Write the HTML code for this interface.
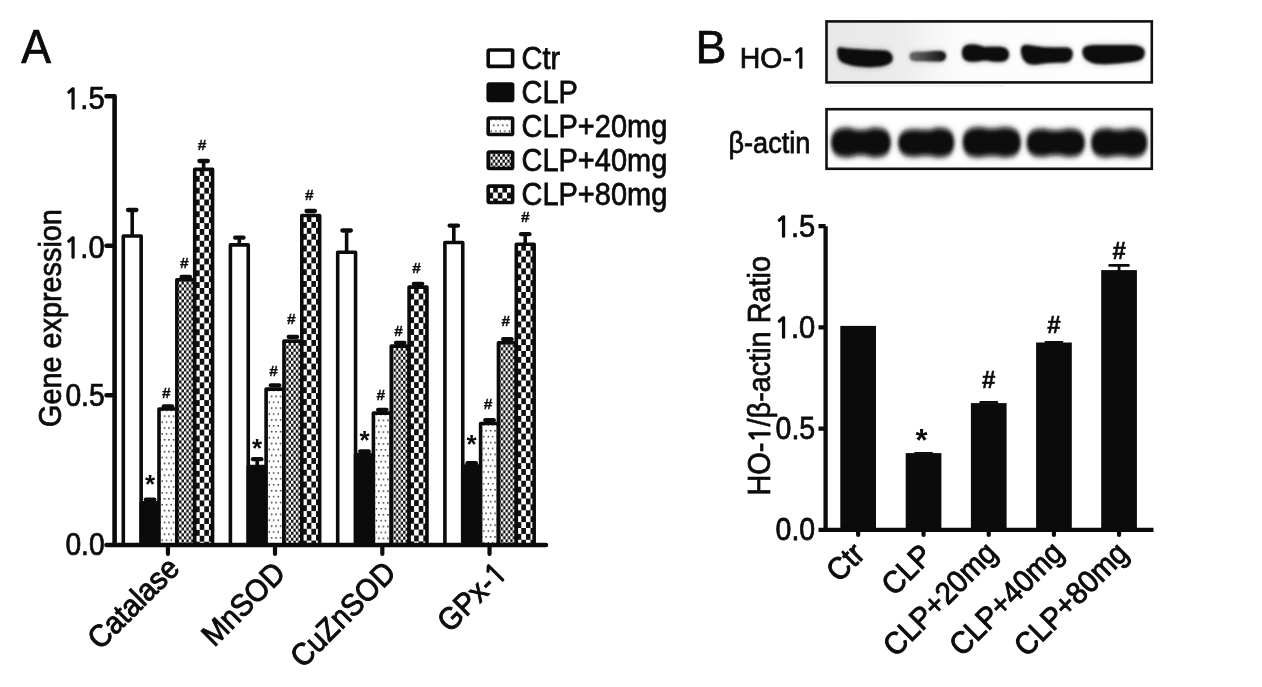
<!DOCTYPE html>
<html><head><meta charset="utf-8"><title>Figure</title>
<style>
html,body{margin:0;padding:0;background:#fff;width:1262px;height:687px;overflow:hidden;}
svg{display:block;will-change:transform;}
text{font-family:"Liberation Sans",Arial,sans-serif;fill:#0b0b0b;}
</style></head><body>
<svg width="1262" height="687" viewBox="0 0 1262 687">
<defs>
<pattern id="p20" patternUnits="userSpaceOnUse" width="4.5" height="11.8" x="-0.7" y="5.45"><rect width="4.5" height="11.8" fill="#fff"/><rect x="1" y="1" width="1.4" height="1.5" fill="#1a1a1a"/><rect x="3.25" y="6.9" width="1.4" height="1.5" fill="#1a1a1a"/></pattern>
<pattern id="p40" patternUnits="userSpaceOnUse" width="4.8" height="6" x="2.25" y="-1.4"><rect width="4.8" height="6" fill="#fff"/><rect x="0" y="0" width="2.4" height="3" fill="#111"/><rect x="2.4" y="3" width="2.4" height="3" fill="#111"/></pattern>
<pattern id="p80" patternUnits="userSpaceOnUse" width="9.2" height="11.8" x="5.0" y="0.6"><rect width="9.2" height="11.8" fill="#fff"/><rect x="0" y="0" width="4.6" height="5.9" fill="#111"/><rect x="4.6" y="5.9" width="4.6" height="5.9" fill="#111"/></pattern>
<filter id="bl2" x="-20%" y="-50%" width="140%" height="200%"><feGaussianBlur stdDeviation="2"/></filter>
<filter id="bl1" x="-20%" y="-50%" width="140%" height="200%"><feGaussianBlur stdDeviation="1.1 1.3"/></filter>
<filter id="bl3" x="-20%" y="-50%" width="140%" height="200%"><feGaussianBlur stdDeviation="1.8 2.6"/></filter>
<linearGradient id="bg1" x1="826" y1="0" x2="1152" y2="0" gradientUnits="userSpaceOnUse"><stop offset="0" stop-color="#e8e8e8"/><stop offset="0.24" stop-color="#ececec"/><stop offset="0.33" stop-color="#f6f6f6"/><stop offset="0.42" stop-color="#fcfcfc"/><stop offset="1" stop-color="#fefefe"/></linearGradient>
<linearGradient id="b2g" x1="910" y1="0" x2="946" y2="0" gradientUnits="userSpaceOnUse"><stop offset="0" stop-color="#6a6a6a"/><stop offset="0.45" stop-color="#444"/><stop offset="0.8" stop-color="#222"/><stop offset="1" stop-color="#151515"/></linearGradient>
<filter id="bl4" x="-30%" y="-80%" width="160%" height="260%"><feGaussianBlur stdDeviation="3 4.5"/></filter>
<filter id="bl5" x="-30%" y="-80%" width="160%" height="260%"><feGaussianBlur stdDeviation="2.2 3"/></filter>
</defs>
<text transform="translate(21.30,63.20) scale(0.94,1)" font-size="47.5" stroke="#0b0b0b" stroke-width="0.75">A</text>
<rect x="123.30" y="236.00" width="17.85" height="309.00" fill="#fff" stroke="#0b0b0b" stroke-width="3.6" stroke-linejoin="round"/>
<rect x="141.15" y="502.80" width="17.85" height="42.20" fill="#0b0b0b" stroke="#0b0b0b" stroke-width="3.6" stroke-linejoin="round"/>
<rect transform="translate(159.00,409.00)" width="17.85" height="136.00" fill="url(#p20)" stroke="#0b0b0b" stroke-width="3.6" stroke-linejoin="round"/>
<rect transform="translate(176.85,279.80)" width="17.85" height="265.20" fill="url(#p40)" stroke="#0b0b0b" stroke-width="3.6" stroke-linejoin="round"/>
<rect transform="translate(194.70,169.40)" width="17.85" height="375.60" fill="url(#p80)" stroke="#0b0b0b" stroke-width="3.6" stroke-linejoin="round"/>
<rect x="230.40" y="244.90" width="17.85" height="300.10" fill="#fff" stroke="#0b0b0b" stroke-width="3.6" stroke-linejoin="round"/>
<rect x="248.25" y="466.60" width="17.85" height="78.40" fill="#0b0b0b" stroke="#0b0b0b" stroke-width="3.6" stroke-linejoin="round"/>
<rect transform="translate(266.10,389.10)" width="17.85" height="155.90" fill="url(#p20)" stroke="#0b0b0b" stroke-width="3.6" stroke-linejoin="round"/>
<rect transform="translate(283.95,341.10)" width="17.85" height="203.90" fill="url(#p40)" stroke="#0b0b0b" stroke-width="3.6" stroke-linejoin="round"/>
<rect transform="translate(301.80,215.50)" width="17.85" height="329.50" fill="url(#p80)" stroke="#0b0b0b" stroke-width="3.6" stroke-linejoin="round"/>
<rect x="337.70" y="252.20" width="17.85" height="292.80" fill="#fff" stroke="#0b0b0b" stroke-width="3.6" stroke-linejoin="round"/>
<rect x="355.55" y="454.60" width="17.85" height="90.40" fill="#0b0b0b" stroke="#0b0b0b" stroke-width="3.6" stroke-linejoin="round"/>
<rect transform="translate(373.40,413.10)" width="17.85" height="131.90" fill="url(#p20)" stroke="#0b0b0b" stroke-width="3.6" stroke-linejoin="round"/>
<rect transform="translate(391.25,346.10)" width="17.85" height="198.90" fill="url(#p40)" stroke="#0b0b0b" stroke-width="3.6" stroke-linejoin="round"/>
<rect transform="translate(409.10,287.10)" width="17.85" height="257.90" fill="url(#p80)" stroke="#0b0b0b" stroke-width="3.6" stroke-linejoin="round"/>
<rect x="444.90" y="242.50" width="17.85" height="302.50" fill="#fff" stroke="#0b0b0b" stroke-width="3.6" stroke-linejoin="round"/>
<rect x="462.75" y="466.10" width="17.85" height="78.90" fill="#0b0b0b" stroke="#0b0b0b" stroke-width="3.6" stroke-linejoin="round"/>
<rect transform="translate(480.60,423.50)" width="17.85" height="121.50" fill="url(#p20)" stroke="#0b0b0b" stroke-width="3.6" stroke-linejoin="round"/>
<rect transform="translate(498.45,342.70)" width="17.85" height="202.30" fill="url(#p40)" stroke="#0b0b0b" stroke-width="3.6" stroke-linejoin="round"/>
<rect transform="translate(516.30,244.20)" width="17.85" height="300.80" fill="url(#p80)" stroke="#0b0b0b" stroke-width="3.6" stroke-linejoin="round"/>
<line x1="132.22" y1="210.00" x2="132.22" y2="236.20" stroke="#0b0b0b" stroke-width="3.6"/>
<line x1="128.03" y1="210.00" x2="136.42" y2="210.00" stroke="#0b0b0b" stroke-width="4.3" stroke-linecap="round"/>
<line x1="145.88" y1="499.60" x2="154.28" y2="499.60" stroke="#0b0b0b" stroke-width="4.3" stroke-linecap="round"/>
<line x1="163.73" y1="406.40" x2="172.12" y2="406.40" stroke="#0b0b0b" stroke-width="4.3" stroke-linecap="round"/>
<line x1="181.58" y1="277.00" x2="189.97" y2="277.00" stroke="#0b0b0b" stroke-width="4.3" stroke-linecap="round"/>
<line x1="203.62" y1="161.00" x2="203.62" y2="169.60" stroke="#0b0b0b" stroke-width="3.6"/>
<line x1="199.43" y1="161.00" x2="207.82" y2="161.00" stroke="#0b0b0b" stroke-width="4.3" stroke-linecap="round"/>
<line x1="239.33" y1="237.70" x2="239.33" y2="245.10" stroke="#0b0b0b" stroke-width="3.6"/>
<line x1="235.13" y1="237.70" x2="243.53" y2="237.70" stroke="#0b0b0b" stroke-width="4.3" stroke-linecap="round"/>
<line x1="257.18" y1="459.20" x2="257.18" y2="466.80" stroke="#0b0b0b" stroke-width="3.6"/>
<line x1="252.98" y1="459.20" x2="261.38" y2="459.20" stroke="#0b0b0b" stroke-width="4.3" stroke-linecap="round"/>
<line x1="270.83" y1="385.30" x2="279.23" y2="385.30" stroke="#0b0b0b" stroke-width="4.3" stroke-linecap="round"/>
<line x1="288.68" y1="336.90" x2="297.07" y2="336.90" stroke="#0b0b0b" stroke-width="4.3" stroke-linecap="round"/>
<line x1="306.53" y1="211.00" x2="314.93" y2="211.00" stroke="#0b0b0b" stroke-width="4.3" stroke-linecap="round"/>
<line x1="346.62" y1="230.50" x2="346.62" y2="252.40" stroke="#0b0b0b" stroke-width="3.6"/>
<line x1="342.43" y1="230.50" x2="350.82" y2="230.50" stroke="#0b0b0b" stroke-width="4.3" stroke-linecap="round"/>
<line x1="360.28" y1="451.30" x2="368.68" y2="451.30" stroke="#0b0b0b" stroke-width="4.3" stroke-linecap="round"/>
<line x1="378.12" y1="409.80" x2="386.52" y2="409.80" stroke="#0b0b0b" stroke-width="4.3" stroke-linecap="round"/>
<line x1="395.98" y1="342.80" x2="404.38" y2="342.80" stroke="#0b0b0b" stroke-width="4.3" stroke-linecap="round"/>
<line x1="413.83" y1="283.80" x2="422.23" y2="283.80" stroke="#0b0b0b" stroke-width="4.3" stroke-linecap="round"/>
<line x1="453.82" y1="225.70" x2="453.82" y2="242.70" stroke="#0b0b0b" stroke-width="3.6"/>
<line x1="449.62" y1="225.70" x2="458.02" y2="225.70" stroke="#0b0b0b" stroke-width="4.3" stroke-linecap="round"/>
<line x1="467.48" y1="463.20" x2="475.88" y2="463.20" stroke="#0b0b0b" stroke-width="4.3" stroke-linecap="round"/>
<line x1="485.32" y1="420.20" x2="493.72" y2="420.20" stroke="#0b0b0b" stroke-width="4.3" stroke-linecap="round"/>
<line x1="503.18" y1="339.20" x2="511.57" y2="339.20" stroke="#0b0b0b" stroke-width="4.3" stroke-linecap="round"/>
<line x1="525.22" y1="234.20" x2="525.22" y2="244.40" stroke="#0b0b0b" stroke-width="3.6"/>
<line x1="521.02" y1="234.20" x2="529.42" y2="234.20" stroke="#0b0b0b" stroke-width="4.3" stroke-linecap="round"/>
<path d="M114.6 96.3 V545 M106.5 96.3 H114.6 M106.5 245.8 H114.6 M106.5 395.3 H114.6 M106.5 545 H546" stroke="#0b0b0b" stroke-width="4.6" fill="none" stroke-linecap="round"/>
<line x1="167.93" y1="545" x2="167.93" y2="554" stroke="#0b0b0b" stroke-width="4.2" stroke-linecap="round"/>
<line x1="275.02" y1="545" x2="275.02" y2="554" stroke="#0b0b0b" stroke-width="4.2" stroke-linecap="round"/>
<line x1="382.32" y1="545" x2="382.32" y2="554" stroke="#0b0b0b" stroke-width="4.2" stroke-linecap="round"/>
<line x1="489.52" y1="545" x2="489.52" y2="554" stroke="#0b0b0b" stroke-width="4.2" stroke-linecap="round"/>
<text transform="translate(104.60,109.00) scale(0.94,1)" font-size="31" text-anchor="end" stroke="#0b0b0b" stroke-width="0.75"><tspan font-family="NanumGothic, Liberation Sans, sans-serif" font-size="28.8" stroke-width="1.5">1</tspan>.5</text>
<text transform="translate(104.60,257.70) scale(0.94,1)" font-size="31" text-anchor="end" stroke="#0b0b0b" stroke-width="0.75"><tspan font-family="NanumGothic, Liberation Sans, sans-serif" font-size="28.8" stroke-width="1.5">1</tspan>.0</text>
<text transform="translate(104.60,406.00) scale(0.91,1)" font-size="31" text-anchor="end" stroke="#0b0b0b" stroke-width="0.75">0.5</text>
<text transform="translate(104.60,555.00) scale(0.91,1)" font-size="31" text-anchor="end" stroke="#0b0b0b" stroke-width="0.75">0.0</text>
<text transform="translate(60.60,427.00) rotate(-90) scale(0.93,1)" font-size="31" stroke="#0b0b0b" stroke-width="0.75">Gene expression</text>
<text transform="translate(181.12,570.00) rotate(-45) scale(0.935,1)" font-size="31" text-anchor="end" stroke="#0b0b0b" stroke-width="0.95">Catalase</text>
<text transform="translate(287.02,574.90) rotate(-45) scale(0.935,1)" font-size="31" text-anchor="end" stroke="#0b0b0b" stroke-width="0.95">MnSOD</text>
<text transform="translate(397.43,574.50) rotate(-45) scale(0.935,1)" font-size="31" text-anchor="end" stroke="#0b0b0b" stroke-width="0.95">CuZnSOD</text>
<text transform="translate(508.32,575.20) rotate(-45) scale(0.935,1)" font-size="31" text-anchor="end" stroke="#0b0b0b" stroke-width="0.95">GPx-<tspan font-family="NanumGothic, Liberation Sans, sans-serif" font-size="28.8" stroke-width="1.5">1</tspan></text>
<text transform="translate(150.08,492.58)" font-size="26" text-anchor="middle" font-weight="bold">*</text>
<text transform="translate(166.43,398.10)" font-size="15.5" text-anchor="middle" font-weight="bold" stroke="#0b0b0b" stroke-width="0.35">#</text>
<text transform="translate(184.28,268.30)" font-size="15.5" text-anchor="middle" font-weight="bold" stroke="#0b0b0b" stroke-width="0.35">#</text>
<text transform="translate(202.12,150.20)" font-size="15.5" text-anchor="middle" font-weight="bold" stroke="#0b0b0b" stroke-width="0.35">#</text>
<text transform="translate(257.18,456.98)" font-size="26" text-anchor="middle" font-weight="bold">*</text>
<text transform="translate(273.53,375.60)" font-size="15.5" text-anchor="middle" font-weight="bold" stroke="#0b0b0b" stroke-width="0.35">#</text>
<text transform="translate(291.38,324.30)" font-size="15.5" text-anchor="middle" font-weight="bold" stroke="#0b0b0b" stroke-width="0.35">#</text>
<text transform="translate(309.23,199.80)" font-size="15.5" text-anchor="middle" font-weight="bold" stroke="#0b0b0b" stroke-width="0.35">#</text>
<text transform="translate(364.48,449.38)" font-size="26" text-anchor="middle" font-weight="bold">*</text>
<text transform="translate(380.82,399.60)" font-size="15.5" text-anchor="middle" font-weight="bold" stroke="#0b0b0b" stroke-width="0.35">#</text>
<text transform="translate(398.68,335.80)" font-size="15.5" text-anchor="middle" font-weight="bold" stroke="#0b0b0b" stroke-width="0.35">#</text>
<text transform="translate(416.53,273.30)" font-size="15.5" text-anchor="middle" font-weight="bold" stroke="#0b0b0b" stroke-width="0.35">#</text>
<text transform="translate(471.68,453.18)" font-size="26" text-anchor="middle" font-weight="bold">*</text>
<text transform="translate(488.02,408.90)" font-size="15.5" text-anchor="middle" font-weight="bold" stroke="#0b0b0b" stroke-width="0.35">#</text>
<text transform="translate(505.88,325.70)" font-size="15.5" text-anchor="middle" font-weight="bold" stroke="#0b0b0b" stroke-width="0.35">#</text>
<text transform="translate(525.22,222.00)" font-size="15.5" text-anchor="middle" font-weight="bold" stroke="#0b0b0b" stroke-width="0.35">#</text>
<rect transform="translate(488.2,50.00)" width="24.4" height="16.4" fill="#fff" stroke="#0b0b0b" stroke-width="3.6" rx="1"/>
<text transform="translate(521.50,68.80) scale(0.935,1)" font-size="31" stroke="#0b0b0b" stroke-width="0.75">Ctr</text>
<rect transform="translate(488.2,84.02)" width="24.4" height="16.4" fill="#0b0b0b" stroke="#0b0b0b" stroke-width="3.6" rx="1"/>
<text transform="translate(521.50,102.82) scale(0.935,1)" font-size="31" stroke="#0b0b0b" stroke-width="0.75">CLP</text>
<rect transform="translate(488.2,118.04)" width="24.4" height="16.4" fill="url(#p20)" stroke="#0b0b0b" stroke-width="3.6" rx="1"/>
<text transform="translate(521.50,136.84) scale(0.935,1)" font-size="31" stroke="#0b0b0b" stroke-width="0.75">CLP+20mg</text>
<rect transform="translate(488.2,152.06)" width="24.4" height="16.4" fill="url(#p40)" stroke="#0b0b0b" stroke-width="3.6" rx="1"/>
<text transform="translate(521.50,170.86) scale(0.935,1)" font-size="31" stroke="#0b0b0b" stroke-width="0.75">CLP+40mg</text>
<rect transform="translate(488.2,186.08)" width="24.4" height="16.4" fill="url(#p80)" stroke="#0b0b0b" stroke-width="3.6" rx="1"/>
<text transform="translate(521.50,204.88) scale(0.935,1)" font-size="31" stroke="#0b0b0b" stroke-width="0.75">CLP+80mg</text>
<text transform="translate(695.50,63.20)" font-size="46.5" stroke="#0b0b0b" stroke-width="0.75">B</text>
<text transform="translate(739.80,67.80) scale(0.965,1)" font-size="29.5" stroke="#0b0b0b" stroke-width="0.75">HO-<tspan font-family="NanumGothic, Liberation Sans, sans-serif" font-size="27.4" stroke-width="1.5">1</tspan></text>
<text transform="translate(728.50,152.80) scale(0.935,1)" font-size="29" stroke="#0b0b0b" stroke-width="0.75">&#946;-actin</text>
<rect x="826.5" y="21.4" width="325.3" height="61" fill="url(#bg1)"/>
<g filter="url(#bl5)" fill="#0c0c0c" opacity="0.35">
<path d="M837.5 51 C837 46.5 840 47.5 846 48.3 C858 49.5 875 50 885 50.6 C892 51.5 893.5 57 892.2 61 C889.5 65.5 880 67.2 870 67.2 C858 67.2 846 65 841 61.5 C838 59 837.5 55 837.5 51 Z"/>
<path d="M909.5 56.3 C909.5 52.5 912 51.8 918 51.8 C925 51.8 932 51 939 51 C944.5 51 946.5 53.5 946 56.5 C945.5 60.5 942.5 61.8 937 61.6 C930 61.3 924 61 917 61.2 C911.5 61.4 909.5 59.5 909.5 56.3 Z" fill="url(#b2g)"/>
<path d="M962 53 C962 46 966 44.5 972 44.5 C979 44.5 982 46.5 985 47 C989 46.7 993 46.5 999 46.8 C1006 47 1009 50 1009 54.5 C1009 59 1006 61.8 999 61.8 C993 61.8 989 60.5 985 60.4 C981 60.5 977 62 971 61.8 C965 61.5 962 58 962 53 Z"/>
<path d="M1021 50 C1021 45 1025 44.5 1031 45.5 C1038 46.5 1045 47.5 1055 47.5 L1066 47.5 C1072 48 1073 51 1072.5 55 C1072 60 1069 62.5 1063 62.5 L1048 63 C1041 63.5 1037 65 1032 64.5 C1025 64 1021 58 1021 50 Z"/>
<path d="M1082.5 52 C1082 46 1088 45 1098 45 L1132 45 C1142 45.5 1145.5 49 1144.5 54 C1144 59 1140 61 1132 62 C1120 63.5 1108 64.5 1098 64 C1088 63 1082.5 58 1082.5 52 Z"/>
</g>
<g filter="url(#bl1)" fill="#0c0c0c">
<path d="M837.5 51 C837 46.5 840 47.5 846 48.3 C858 49.5 875 50 885 50.6 C892 51.5 893.5 57 892.2 61 C889.5 65.5 880 67.2 870 67.2 C858 67.2 846 65 841 61.5 C838 59 837.5 55 837.5 51 Z"/>
<path d="M909.5 56.3 C909.5 52.5 912 51.8 918 51.8 C925 51.8 932 51 939 51 C944.5 51 946.5 53.5 946 56.5 C945.5 60.5 942.5 61.8 937 61.6 C930 61.3 924 61 917 61.2 C911.5 61.4 909.5 59.5 909.5 56.3 Z" fill="url(#b2g)"/>
<path d="M962 53 C962 46 966 44.5 972 44.5 C979 44.5 982 46.5 985 47 C989 46.7 993 46.5 999 46.8 C1006 47 1009 50 1009 54.5 C1009 59 1006 61.8 999 61.8 C993 61.8 989 60.5 985 60.4 C981 60.5 977 62 971 61.8 C965 61.5 962 58 962 53 Z"/>
<path d="M1021 50 C1021 45 1025 44.5 1031 45.5 C1038 46.5 1045 47.5 1055 47.5 L1066 47.5 C1072 48 1073 51 1072.5 55 C1072 60 1069 62.5 1063 62.5 L1048 63 C1041 63.5 1037 65 1032 64.5 C1025 64 1021 58 1021 50 Z"/>
<path d="M1082.5 52 C1082 46 1088 45 1098 45 L1132 45 C1142 45.5 1145.5 49 1144.5 54 C1144 59 1140 61 1132 62 C1120 63.5 1108 64.5 1098 64 C1088 63 1082.5 58 1082.5 52 Z"/>
</g>
<rect x="826.5" y="21.4" width="325.3" height="61" fill="none" stroke="#111" stroke-width="2.6"/>
<rect x="826.5" y="109.2" width="325.3" height="59.6" fill="#fff" stroke="#111" stroke-width="2.6"/>
<rect x="830" y="85.2" width="175" height="1.6" fill="#f1f1f1"/>
<g filter="url(#bl4)" fill="#0c0c0c" opacity="0.45">
<path d="M831.5 142.5 C831.5 132.7 836.4 128.5 846.9 128.5 C852.7 128.5 853.0 130.7 861.0 130.7 C869.0 130.7 869.3 128.5 875.1 128.5 C885.6 128.5 890.5 132.7 890.5 142.5 C890.5 152.3 885.6 156.5 875.1 156.5 C869.3 156.5 869.0 154.5 861.0 154.5 C853.0 154.5 852.7 156.5 846.9 156.5 C836.4 156.5 831.5 152.3 831.5 142.5 Z"/>
<path d="M898.5 142.5 C898.5 134.2 903.4 130.0 913.9 130.0 C918.5 130.0 918.2 130.5 926.2 130.5 C934.2 130.5 934.0 128.5 938.6 128.5 C949.1 128.5 954 132.7 954 142.5 C954 152.3 949.1 156.5 938.6 156.5 C934.0 156.5 934.2 155.0 926.2 155.0 C918.2 155.0 918.5 156.0 913.9 156.0 C903.4 156.0 898.5 151.8 898.5 142.5 Z"/>
<path d="M963 142.2 C963 132.3 968.0 128.0 978.7 128.0 C983.7 128.0 983.8 129.2 991.8 129.2 C999.8 129.2 999.8 128.0 1004.8 128.0 C1015.5 128.0 1020.5 132.3 1020.5 142.2 C1020.5 152.2 1015.5 156.5 1004.8 156.5 C999.8 156.5 999.8 155.3 991.8 155.3 C983.8 155.3 983.7 156.5 978.7 156.5 C968.0 156.5 963 152.2 963 142.2 Z"/>
<path d="M1027 142.8 C1027 133.5 1031.6 129.5 1041.6 129.5 C1047.7 129.5 1047.8 131.0 1055.8 131.0 C1063.8 131.0 1063.8 129.5 1069.9 129.5 C1079.9 129.5 1084.5 133.5 1084.5 142.8 C1084.5 152.0 1079.9 156.0 1069.9 156.0 C1063.8 156.0 1063.8 154.5 1055.8 154.5 C1047.8 154.5 1047.7 156.0 1041.6 156.0 C1031.6 156.0 1027 152.0 1027 142.8 Z"/>
<path d="M1091.5 142.8 C1091.5 133.1 1096.3 129.0 1106.6 129.0 C1111.5 129.0 1111.2 130.5 1119.2 130.5 C1127.2 130.5 1127.0 129.0 1131.9 129.0 C1142.2 129.0 1147 133.1 1147 142.8 C1147 152.4 1142.2 156.5 1131.9 156.5 C1127.0 156.5 1127.2 155.3 1119.2 155.3 C1111.2 155.3 1111.5 156.5 1106.6 156.5 C1096.3 156.5 1091.5 152.4 1091.5 142.8 Z"/>
</g>
<g filter="url(#bl3)" fill="#0c0c0c">
<path d="M831.5 142.5 C831.5 132.7 836.4 128.5 846.9 128.5 C852.7 128.5 853.0 130.7 861.0 130.7 C869.0 130.7 869.3 128.5 875.1 128.5 C885.6 128.5 890.5 132.7 890.5 142.5 C890.5 152.3 885.6 156.5 875.1 156.5 C869.3 156.5 869.0 154.5 861.0 154.5 C853.0 154.5 852.7 156.5 846.9 156.5 C836.4 156.5 831.5 152.3 831.5 142.5 Z"/>
<path d="M898.5 142.5 C898.5 134.2 903.4 130.0 913.9 130.0 C918.5 130.0 918.2 130.5 926.2 130.5 C934.2 130.5 934.0 128.5 938.6 128.5 C949.1 128.5 954 132.7 954 142.5 C954 152.3 949.1 156.5 938.6 156.5 C934.0 156.5 934.2 155.0 926.2 155.0 C918.2 155.0 918.5 156.0 913.9 156.0 C903.4 156.0 898.5 151.8 898.5 142.5 Z"/>
<path d="M963 142.2 C963 132.3 968.0 128.0 978.7 128.0 C983.7 128.0 983.8 129.2 991.8 129.2 C999.8 129.2 999.8 128.0 1004.8 128.0 C1015.5 128.0 1020.5 132.3 1020.5 142.2 C1020.5 152.2 1015.5 156.5 1004.8 156.5 C999.8 156.5 999.8 155.3 991.8 155.3 C983.8 155.3 983.7 156.5 978.7 156.5 C968.0 156.5 963 152.2 963 142.2 Z"/>
<path d="M1027 142.8 C1027 133.5 1031.6 129.5 1041.6 129.5 C1047.7 129.5 1047.8 131.0 1055.8 131.0 C1063.8 131.0 1063.8 129.5 1069.9 129.5 C1079.9 129.5 1084.5 133.5 1084.5 142.8 C1084.5 152.0 1079.9 156.0 1069.9 156.0 C1063.8 156.0 1063.8 154.5 1055.8 154.5 C1047.8 154.5 1047.7 156.0 1041.6 156.0 C1031.6 156.0 1027 152.0 1027 142.8 Z"/>
<path d="M1091.5 142.8 C1091.5 133.1 1096.3 129.0 1106.6 129.0 C1111.5 129.0 1111.2 130.5 1119.2 130.5 C1127.2 130.5 1127.0 129.0 1131.9 129.0 C1142.2 129.0 1147 133.1 1147 142.8 C1147 152.4 1142.2 156.5 1131.9 156.5 C1127.0 156.5 1127.2 155.3 1119.2 155.3 C1111.2 155.3 1111.5 156.5 1106.6 156.5 C1096.3 156.5 1091.5 152.4 1091.5 142.8 Z"/>
</g>
<rect x="840.30" y="325.90" width="35.7" height="203.90" fill="#0b0b0b"/>
<rect x="905.70" y="453.10" width="35.7" height="76.70" fill="#0b0b0b"/>
<rect x="970.90" y="403.10" width="35.7" height="126.70" fill="#0b0b0b"/>
<rect x="1036.10" y="342.50" width="35.7" height="187.30" fill="#0b0b0b"/>
<rect x="1101.20" y="270.10" width="35.7" height="259.70" fill="#0b0b0b"/>
<line x1="1119.05" y1="265.4" x2="1119.05" y2="272" stroke="#0b0b0b" stroke-width="2.8"/>
<line x1="1109.65" y1="265.4" x2="1128.45" y2="265.4" stroke="#0b0b0b" stroke-width="2.7" stroke-linecap="round"/>
<rect x="914.15" y="451.90" width="18.8" height="1.70" fill="#0b0b0b" rx="0.8"/>
<rect x="979.35" y="401.10" width="18.8" height="2.50" fill="#0b0b0b" rx="0.8"/>
<rect x="1044.55" y="341.10" width="18.8" height="1.90" fill="#0b0b0b" rx="0.8"/>
<path d="M825.6 226.2 V530 M818.5 226.2 H825.6 M818.5 327.4 H825.6 M818.5 428.6 H825.6 M818.5 529.8 H1153.5" stroke="#0b0b0b" stroke-width="4.3" fill="none"/>
<line x1="858.15" y1="530" x2="858.15" y2="535" stroke="#0b0b0b" stroke-width="4.2" stroke-linecap="round"/>
<line x1="923.55" y1="530" x2="923.55" y2="535" stroke="#0b0b0b" stroke-width="4.2" stroke-linecap="round"/>
<line x1="988.75" y1="530" x2="988.75" y2="535" stroke="#0b0b0b" stroke-width="4.2" stroke-linecap="round"/>
<line x1="1053.95" y1="530" x2="1053.95" y2="535" stroke="#0b0b0b" stroke-width="4.2" stroke-linecap="round"/>
<line x1="1119.05" y1="530" x2="1119.05" y2="535" stroke="#0b0b0b" stroke-width="4.2" stroke-linecap="round"/>
<text transform="translate(815.20,237.10) scale(0.94,1)" font-size="31" text-anchor="end" stroke="#0b0b0b" stroke-width="0.75"><tspan font-family="NanumGothic, Liberation Sans, sans-serif" font-size="28.8" stroke-width="1.5">1</tspan>.5</text>
<text transform="translate(815.20,338.20) scale(0.94,1)" font-size="31" text-anchor="end" stroke="#0b0b0b" stroke-width="0.75"><tspan font-family="NanumGothic, Liberation Sans, sans-serif" font-size="28.8" stroke-width="1.5">1</tspan>.0</text>
<text transform="translate(815.20,439.10) scale(0.92,1)" font-size="31" text-anchor="end" stroke="#0b0b0b" stroke-width="0.75">0.5</text>
<text transform="translate(815.20,540.00) scale(0.92,1)" font-size="31" text-anchor="end" stroke="#0b0b0b" stroke-width="0.75">0.0</text>
<text transform="translate(769.60,495.50) rotate(-90) scale(0.93,1)" font-size="31" stroke="#0b0b0b" stroke-width="0.75">HO-<tspan font-family="NanumGothic, Liberation Sans, sans-serif" font-size="28.8" stroke-width="1.5">1</tspan>/&#946;-actin Ratio</text>
<text transform="translate(866.25,556.00) rotate(-45) scale(0.935,1)" font-size="31" text-anchor="end" stroke="#0b0b0b" stroke-width="0.95">Ctr</text>
<text transform="translate(934.15,557.20) rotate(-45) scale(0.935,1)" font-size="31" text-anchor="end" stroke="#0b0b0b" stroke-width="0.95">CLP</text>
<text transform="translate(998.95,554.80) rotate(-45) scale(0.935,1)" font-size="31" text-anchor="end" stroke="#0b0b0b" stroke-width="0.95">CLP+20mg</text>
<text transform="translate(1065.05,554.50) rotate(-45) scale(0.935,1)" font-size="31" text-anchor="end" stroke="#0b0b0b" stroke-width="0.95">CLP+40mg</text>
<text transform="translate(1129.85,555.00) rotate(-45) scale(0.935,1)" font-size="31" text-anchor="end" stroke="#0b0b0b" stroke-width="0.95">CLP+80mg</text>
<text transform="translate(921.55,451.23)" font-size="31" text-anchor="middle" font-weight="bold">*</text>
<text transform="translate(988.75,388.08)" font-size="24" text-anchor="middle" font-weight="bold" stroke="#0b0b0b" stroke-width="0.5">#</text>
<text transform="translate(1053.95,333.08)" font-size="24" text-anchor="middle" font-weight="bold" stroke="#0b0b0b" stroke-width="0.5">#</text>
<text transform="translate(1119.05,258.68)" font-size="24" text-anchor="middle" font-weight="bold" stroke="#0b0b0b" stroke-width="0.5">#</text>
</svg>
</body></html>
